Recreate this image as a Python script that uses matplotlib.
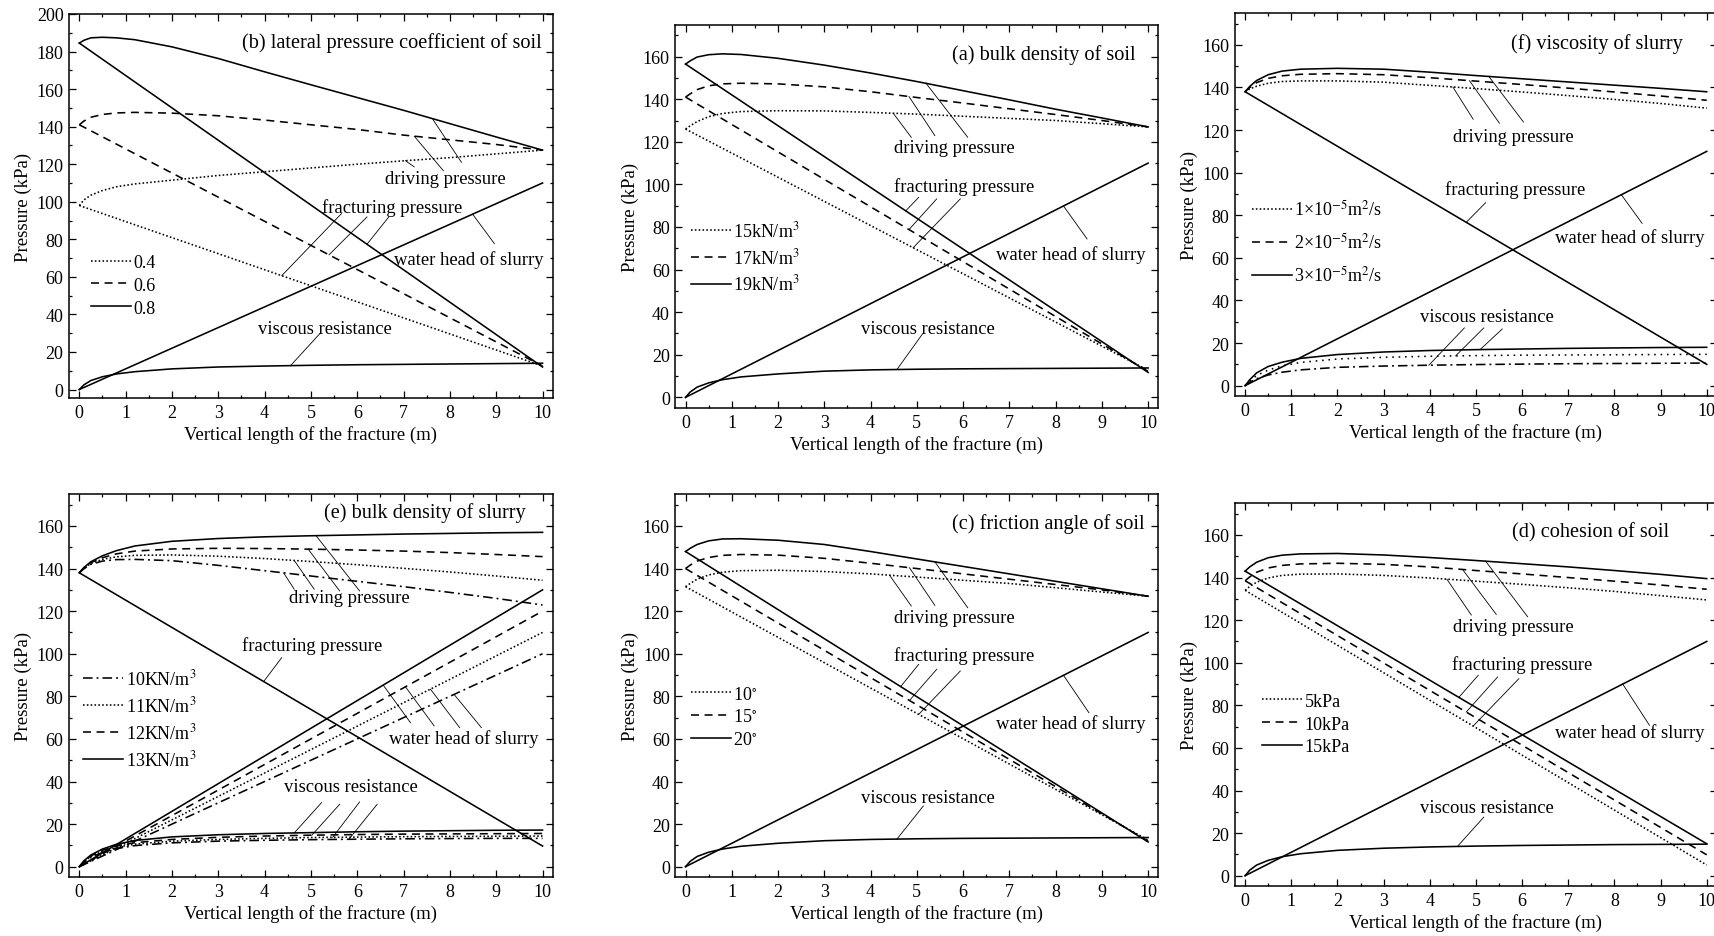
import numpy as np
import matplotlib
matplotlib.use('Agg')
import matplotlib.pyplot as plt
from matplotlib.ticker import MultipleLocator

plt.rcParams['font.family'] = ['Liberation Serif', 'DejaVu Serif']
plt.rcParams['mathtext.fontset'] = 'stix'
plt.rcParams['font.size'] = 13

# sample positions along the fracture (m)
x_grid = [0, 0.1, 0.25, 0.5, 0.8, 1.2, 2, 3, 4, 5, 6, 7, 8, 9, 10]
x_ends = [0, 10]

# (b) lateral pressure coefficient of soil
b_labels = ['0.4', '0.6', '0.8']
b_drive_04 = [98, 101, 103.5, 106, 108, 109.5, 111.5, 114, 116, 118, 120, 121.8, 123.5, 125.5, 127.5]
b_drive_06 = [141, 143, 145, 146.5, 147.3, 147.6, 147.2, 145.8, 143.5, 141, 138.5, 135.5, 133, 130.5, 127.5]
b_drive_08 = [184.5, 186, 187.3, 187.6, 187.3, 186.3, 182.5, 176.3, 169.2, 162.3, 155.5, 148.7, 141.6, 134.5, 127.5]
b_frac_04 = [98, 12.5]
b_frac_06 = [141, 12.5]
b_frac_08 = [184.5, 12]
b_water = [0, 110]
b_visc = [0, 2.5, 4.8, 6.8, 8.3, 9.5, 11, 12, 12.5, 12.9, 13.2, 13.4, 13.6, 13.8, 14]

# (a) bulk density of soil
a_labels = ['15kN/m$^3$', '17kN/m$^3$', '19kN/m$^3$']
a_drive_15 = [126, 127.5, 129.5, 131.8, 133.3, 134.2, 134.6, 134.5, 133.8, 133, 132, 131, 130, 128.5, 127]
a_drive_17 = [141, 142.5, 144.5, 146.3, 147.2, 147.5, 147.2, 145.8, 143.5, 140.8, 138.2, 135.5, 132.8, 130, 127]
a_drive_19 = [156.5, 158, 159.8, 160.9, 161.3, 161, 159.2, 156, 152.3, 148.3, 144, 139.7, 135.3, 131.2, 127]
a_frac_15 = [126, 12.7]
a_frac_17 = [141, 12.2]
a_frac_19 = [156.5, 11.7]
a_water = [0, 110]
a_visc = [0, 2.5, 4.8, 6.8, 8.3, 9.6, 11, 12.3, 12.9, 13.2, 13.4, 13.5, 13.6, 13.7, 13.8]

# (f) viscosity of slurry
f_labels = ['1×10$^{-5}$m$^2$/s', '2×10$^{-5}$m$^2$/s', '3×10$^{-5}$m$^2$/s']
f_drive_1 = [138, 139.3, 140.6, 142, 142.8, 143.1, 143.1, 142.5, 141, 139.5, 137.9, 136.2, 134.4, 132.5, 130.3]
f_drive_2 = [138, 140, 142.3, 144.3, 145.5, 146.2, 146.5, 146, 144.6, 143, 141.4, 139.7, 137.9, 136, 134]
f_drive_3 = [138, 140.5, 143.3, 146, 147.7, 148.6, 149, 148.6, 147.2, 145.6, 144.1, 142.6, 141.1, 139.6, 138]
f_frac = [138, 10]
f_water = [0, 110]
f_visc_1 = [0, 1.6, 3.3, 5, 6.3, 7.4, 8.6, 9.2, 9.6, 9.9, 10.1, 10.3, 10.4, 10.5, 10.6]
f_visc_2 = [0, 2.2, 4.8, 7.3, 9.3, 10.9, 12.5, 13.3, 13.8, 14.1, 14.3, 14.4, 14.5, 14.6, 14.7]
f_visc_3 = [0, 2.8, 6, 9, 11, 12.8, 14.6, 15.8, 16.5, 16.9, 17.2, 17.5, 17.7, 17.9, 18]

# (e) bulk density of slurry
e_labels = ['10KN/m$^3$', '11KN/m$^3$', '12KN/m$^3$', '13KN/m$^3$']
e_drive_10 = [138, 139.9, 142, 143.5, 144.2, 144.3, 143.7, 141.5, 139, 136.5, 134, 131.5, 128.8, 126, 122.9]
e_drive_11 = [138, 140.1, 142.4, 144.3, 145.5, 146.2, 146.4, 145.8, 144.7, 143.3, 141.8, 140.1, 138.4, 136.5, 134.5]
e_drive_12 = [138, 140.3, 142.8, 145.1, 146.9, 148.2, 149.2, 149.5, 149.4, 149.1, 148.7, 148.2, 147.5, 146.6, 145.6]
e_drive_13 = [138, 140.5, 143.2, 146, 148.4, 150.6, 152.8, 154.1, 154.9, 155.4, 155.8, 156.2, 156.5, 156.8, 157]
e_frac = [138, 9.7]
e_water_10 = [0, 100]
e_water_11 = [0, 110]
e_water_12 = [0, 120]
e_water_13 = [0, 130]
e_visc_10 = [0, 2.1, 4.4, 6.7, 8.5, 9.9, 11.2, 12, 12.4, 12.7, 12.9, 13.1, 13.2, 13.3, 13.3]
e_visc_11 = [0, 2.3, 4.8, 7.2, 9.1, 10.6, 12, 12.8, 13.3, 13.7, 13.9, 14.1, 14.2, 14.3, 14.4]
e_visc_12 = [0, 2.5, 5.1, 7.7, 9.7, 11.3, 12.8, 13.8, 14.4, 14.8, 15.1, 15.3, 15.4, 15.5, 15.6]
e_visc_13 = [0, 2.8, 5.5, 8.3, 10.5, 12.3, 14, 15, 15.6, 16, 16.4, 16.7, 16.9, 17.1, 17.2]

# (c) friction angle of soil
c_labels = ['10$^{\\circ}$', '15$^{\\circ}$', '20$^{\\circ}$']
c_drive_10 = [131.5, 133, 135, 137, 138.3, 139, 139.2, 138.6, 137.5, 136, 134.5, 133, 131, 129, 127]
c_drive_15 = [140, 141.6, 143.5, 145.2, 146.2, 146.6, 146.3, 144.8, 142.5, 140, 137.5, 135, 132.5, 130, 127]
c_drive_20 = [148, 149.5, 151.3, 153, 153.9, 154, 153.3, 151.3, 148, 144.5, 141, 137.5, 134, 130.5, 127]
c_frac_10 = [131.5, 12.5]
c_frac_15 = [140, 12]
c_frac_20 = [148, 11.6]
c_water = [0, 110]
c_visc = [0, 2.5, 4.8, 6.8, 8.3, 9.6, 11, 12.2, 12.8, 13.1, 13.3, 13.4, 13.5, 13.6, 13.7]

# (d) cohesion of soil
d_labels = ['5kPa', '10kPa', '15kPa']
d_drive_5 = [134, 135.8, 137.8, 139.8, 141, 141.6, 141.7, 141, 139.8, 138.3, 136.8, 135.2, 133.5, 131.5, 129.5]
d_drive_10 = [138.5, 140.3, 142.5, 144.5, 145.7, 146.4, 146.7, 146.2, 145, 143.3, 141.7, 140, 138.3, 136.5, 134.5]
d_drive_15 = [143, 145, 147.2, 149.3, 150.5, 151.1, 151.3, 150.6, 149.4, 148, 146.5, 145, 143.3, 141.5, 139.5]
d_frac_5 = [134, 5]
d_frac_10 = [138.5, 9.8]
d_frac_15 = [143, 15]
d_water = [0, 110]
d_visc = [0, 2.6, 5, 7.2, 8.9, 10.3, 11.9, 12.9, 13.5, 13.9, 14.2, 14.4, 14.6, 14.7, 14.8]

DOT = (0, (1, 1.4))
DASH = (0, (5, 3.5))
DASHDOT = (0, (6, 2.5, 1.2, 2.5))
SOLID = '-'
LW = 1.15
TXT = 13.4
TTL = 14.6

fig = plt.figure(figsize=(17.15, 9.37), dpi=100)


def setup(ax, ylim):
    ax.set_facecolor('none')
    ax.set_xlim(-0.22, 10.22)
    ax.set_ylim(*ylim)
    ax.xaxis.set_major_locator(MultipleLocator(1))
    ax.xaxis.set_minor_locator(MultipleLocator(0.5))
    ax.yaxis.set_major_locator(MultipleLocator(20))
    ax.yaxis.set_minor_locator(MultipleLocator(10))
    ax.tick_params(which='both', direction='in', top=True, right=True, width=0.9)
    ax.tick_params(which='major', length=5, labelsize=13, pad=4)
    ax.tick_params(which='minor', length=2.5)
    for s in ax.spines.values():
        s.set_linewidth(1.1)
    ax.set_xlabel('Vertical length of the fracture (m)', fontsize=13.5, labelpad=3)
    ax.set_ylabel('Pressure (kPa)', fontsize=13.5, labelpad=3)


def leaders(ax, items):
    # items: (x start, y start, x on curve, curve xs, curve ys)
    for x0, y0, x1, xs, ys in items:
        ax.plot([x0, x1], [y0, np.interp(x1, xs, ys)], color='k', lw=0.6)


def label(ax, s, x, y):
    ax.text(x, y, s, ha='center', va='center', fontsize=TXT)


def title(ax, s, x, y):
    ax.text(x, y, s, ha='right', va='center', fontsize=TTL)


def legend(ax, handles, labels, x, y, spacing):
    ax.legend(handles, labels, loc='upper left', bbox_to_anchor=(x, y), frameon=False,
              handlelength=2.2, handletextpad=0.15, labelspacing=spacing,
              borderpad=0, borderaxespad=0, fontsize=13)


# ---------------- (b)
ax = fig.add_axes([0.0403, 0.5742, 0.2820, 0.4098])
setup(ax, (-4.5, 200))
ax.plot(x_ends, b_water, color='k', lw=LW)
ax.plot(x_grid, b_visc, color='k', lw=LW)
hb = []
for d, fr, ls in [(b_drive_04, b_frac_04, DOT), (b_drive_06, b_frac_06, DASH), (b_drive_08, b_frac_08, SOLID)]:
    ax.plot(x_ends, fr, color='k', lw=LW, linestyle=ls)
    hb += ax.plot(x_grid, d, color='k', lw=LW, linestyle=ls)
title(ax, '(b) lateral pressure coefficient of soil', 9.98, 185.2)
label(ax, 'driving pressure', 7.9, 112.4)
leaders(ax, [(7.23, 118.6, 7.04, x_grid, b_drive_04), (7.86, 116.5, 7.23, x_grid, b_drive_06),
             (8.25, 121, 7.62, x_grid, b_drive_08)])
label(ax, 'fracturing pressure', 6.76, 97.2)
leaders(ax, [(5.66, 93.7, 4.37, x_ends, b_frac_04), (6.21, 91.9, 5.39, x_ends, b_frac_06),
             (6.68, 91.9, 6.21, x_ends, b_frac_08)])
label(ax, 'water head of slurry', 8.41, 69.7)
leaders(ax, [(8.96, 77.7, 8.49, x_ends, b_water)])
label(ax, 'viscous resistance', 5.31, 32.4)
leaders(ax, [(5.19, 29.7, 4.56, x_grid, b_visc)])
legend(ax, hb, b_labels, 0.045, 0.375, 0.32)

# ---------------- (a)
ax = fig.add_axes([0.3938, 0.5635, 0.2816, 0.4091])
setup(ax, (-5, 175))
ax.plot(x_ends, a_water, color='k', lw=LW)
ax.plot(x_grid, a_visc, color='k', lw=LW)
ha = []
for d, fr, ls in [(a_drive_15, a_frac_15, DOT), (a_drive_17, a_frac_17, DASH), (a_drive_19, a_frac_19, SOLID)]:
    ax.plot(x_ends, fr, color='k', lw=LW, linestyle=ls)
    ha += ax.plot(x_grid, d, color='k', lw=LW, linestyle=ls)
title(ax, '(a) bulk density of soil', 9.73, 161.3)
label(ax, 'driving pressure', 5.82, 117.4)
leaders(ax, [(4.88, 122.1, 4.49, x_grid, a_drive_15), (5.39, 122.9, 4.83, x_grid, a_drive_17),
             (6.1, 122.1, 5.2, x_grid, a_drive_19)])
label(ax, 'fracturing pressure', 6.02, 99.4)
leaders(ax, [(5.04, 93.9, 4.76, x_ends, a_frac_19), (5.43, 93.2, 4.83, x_ends, a_frac_17),
             (5.94, 93.2, 4.92, x_ends, a_frac_15)])
label(ax, 'water head of slurry', 8.33, 67.3)
leaders(ax, [(8.68, 74.4, 8.17, x_ends, a_water)])
label(ax, 'viscous resistance', 5.24, 32.4)
leaders(ax, [(5.12, 29.7, 4.57, x_grid, a_visc)])
legend(ax, ha, a_labels, 0.032, 0.49, 0.38)

# ---------------- (f)
ax = fig.add_axes([0.7201, 0.5760, 0.2810, 0.4091])
setup(ax, (-5, 175))
ax.plot(x_ends, f_water, color='k', lw=LW)
ax.plot(x_ends, f_frac, color='k', lw=LW)
ax.plot(x_grid, f_visc_1, color='k', lw=LW, linestyle=DASHDOT)
ax.plot(x_grid, f_visc_2, color='k', lw=LW, linestyle=(0, (1, 3)))
ax.plot(x_grid, f_visc_3, color='k', lw=LW)
hf = []
for d, ls in [(f_drive_1, DOT), (f_drive_2, DASH), (f_drive_3, SOLID)]:
    hf += ax.plot(x_grid, d, color='k', lw=LW, linestyle=ls)
title(ax, '(f) viscosity of slurry', 9.47, 161.1)
label(ax, 'driving pressure', 5.82, 117.2)
leaders(ax, [(4.94, 125.1, 4.5, x_grid, f_drive_1), (5.51, 123.2, 4.86, x_grid, f_drive_2),
             (6.03, 123.8, 5.28, x_grid, f_drive_3)])
label(ax, 'fracturing pressure', 5.85, 92.1)
leaders(ax, [(5.21, 85.9, 4.79, x_ends, f_frac)])
label(ax, 'water head of slurry', 8.34, 69.9)
leaders(ax, [(8.6, 76.2, 8.15, x_ends, f_water)])
label(ax, 'viscous resistance', 5.24, 32.6)
leaders(ax, [(4.75, 27.1, 3.98, x_grid, f_visc_1), (5.17, 27.1, 4.56, x_grid, f_visc_2),
             (5.57, 26.6, 5.09, x_grid, f_visc_3)])
legend(ax, hf, f_labels, 0.035, 0.515, 0.72)

# ---------------- (e)
ax = fig.add_axes([0.0403, 0.0626, 0.2820, 0.4091])
setup(ax, (-5, 175))
ax.plot(x_ends, e_frac, color='k', lw=LW)
he = []
for d, w, v, ls in [(e_drive_10, e_water_10, e_visc_10, DASHDOT), (e_drive_11, e_water_11, e_visc_11, DOT),
                    (e_drive_12, e_water_12, e_visc_12, DASH), (e_drive_13, e_water_13, e_visc_13, SOLID)]:
    ax.plot(x_ends, w, color='k', lw=LW, linestyle=ls)
    ax.plot(x_grid, v, color='k', lw=LW, linestyle=ls)
    he += ax.plot(x_grid, d, color='k', lw=LW, linestyle=ls)
title(ax, '(e) bulk density of slurry', 9.64, 166.3)
label(ax, 'driving pressure', 5.82, 126.3)
leaders(ax, [(4.64, 130.3, 4.41, x_grid, e_drive_10), (5.07, 130.3, 4.64, x_grid, e_drive_11),
             (5.62, 129.5, 4.94, x_grid, e_drive_12), (6.05, 129.5, 5.11, x_grid, e_drive_13)])
label(ax, 'fracturing pressure', 5.02, 104.1)
leaders(ax, [(4.37, 98.2, 3.98, x_ends, e_frac)])
label(ax, 'water head of slurry', 8.29, 60.6)
leaders(ax, [(7.15, 67.6, 6.56, x_ends, e_water_13), (7.66, 66.1, 7.04, x_ends, e_water_12),
             (8.21, 65.3, 7.58, x_ends, e_water_11), (8.68, 65.3, 8.09, x_ends, e_water_10)])
label(ax, 'viscous resistance', 5.86, 37.6)
leaders(ax, [(5.23, 30.1, 4.64, x_grid, e_visc_13), (5.62, 29.3, 5.02, x_grid, e_visc_12),
             (6.05, 30.4, 5.47, x_grid, e_visc_11), (6.43, 29.3, 5.82, x_grid, e_visc_10)])
legend(ax, he, e_labels, 0.029, 0.545, 0.38)

# ---------------- (c)
ax = fig.add_axes([0.3938, 0.0626, 0.2816, 0.4091])
setup(ax, (-5, 175))
ax.plot(x_ends, c_water, color='k', lw=LW)
ax.plot(x_grid, c_visc, color='k', lw=LW)
hc = []
for d, fr, ls in [(c_drive_10, c_frac_10, DOT), (c_drive_15, c_frac_15, DASH), (c_drive_20, c_frac_20, SOLID)]:
    ax.plot(x_ends, fr, color='k', lw=LW, linestyle=ls)
    hc += ax.plot(x_grid, d, color='k', lw=LW, linestyle=ls)
title(ax, '(c) friction angle of soil', 9.92, 161.6)
label(ax, 'driving pressure', 5.82, 116.9)
leaders(ax, [(4.88, 122.4, 4.41, x_grid, c_drive_10), (5.39, 122.7, 4.84, x_grid, c_drive_15),
             (6.1, 121.6, 5.39, x_grid, c_drive_20)])
label(ax, 'fracturing pressure', 6.02, 99.4)
leaders(ax, [(5.04, 95, 4.65, x_ends, c_frac_20), (5.43, 92.7, 4.84, x_ends, c_frac_15),
             (5.94, 91.9, 5.04, x_ends, c_frac_10)])
label(ax, 'water head of slurry', 8.33, 67.6)
leaders(ax, [(8.72, 72.3, 8.17, x_ends, c_water)])
label(ax, 'viscous resistance', 5.24, 32.4)
leaders(ax, [(5.14, 28.5, 4.57, x_grid, c_visc)])
legend(ax, hc, c_labels, 0.032, 0.5, 0.32)

# ---------------- (d)
ax = fig.add_axes([0.7201, 0.0530, 0.2810, 0.4091])
setup(ax, (-5, 175))
ax.plot(x_ends, d_water, color='k', lw=LW)
ax.plot(x_grid, d_visc, color='k', lw=LW)
hd = []
for d, fr, ls in [(d_drive_5, d_frac_5, DOT), (d_drive_10, d_frac_10, DASH), (d_drive_15, d_frac_15, SOLID)]:
    ax.plot(x_ends, fr, color='k', lw=LW, linestyle=ls)
    hd += ax.plot(x_grid, d, color='k', lw=LW, linestyle=ls)
title(ax, '(d) cohesion of soil', 9.18, 161.6)
label(ax, 'driving pressure', 5.82, 117.2)
leaders(ax, [(4.9, 122.4, 4.37, x_grid, d_drive_5), (5.44, 122.7, 4.71, x_grid, d_drive_10),
             (6.12, 121.6, 5.21, x_grid, d_drive_15)])
label(ax, 'fracturing pressure', 6.01, 99.6)
leaders(ax, [(5.05, 94.1, 4.63, x_ends, d_frac_15), (5.47, 93.3, 4.79, x_ends, d_frac_10),
             (5.93, 92.5, 4.94, x_ends, d_frac_5)])
label(ax, 'water head of slurry', 8.34, 67.5)
leaders(ax, [(8.76, 70.6, 8.18, x_ends, d_water)])
label(ax, 'viscous resistance', 5.24, 32.2)
leaders(ax, [(5.17, 27.5, 4.6, x_grid, d_visc)])
legend(ax, hd, d_labels, 0.057, 0.505, 0.32)

fig.savefig('out.png', dpi=100)
